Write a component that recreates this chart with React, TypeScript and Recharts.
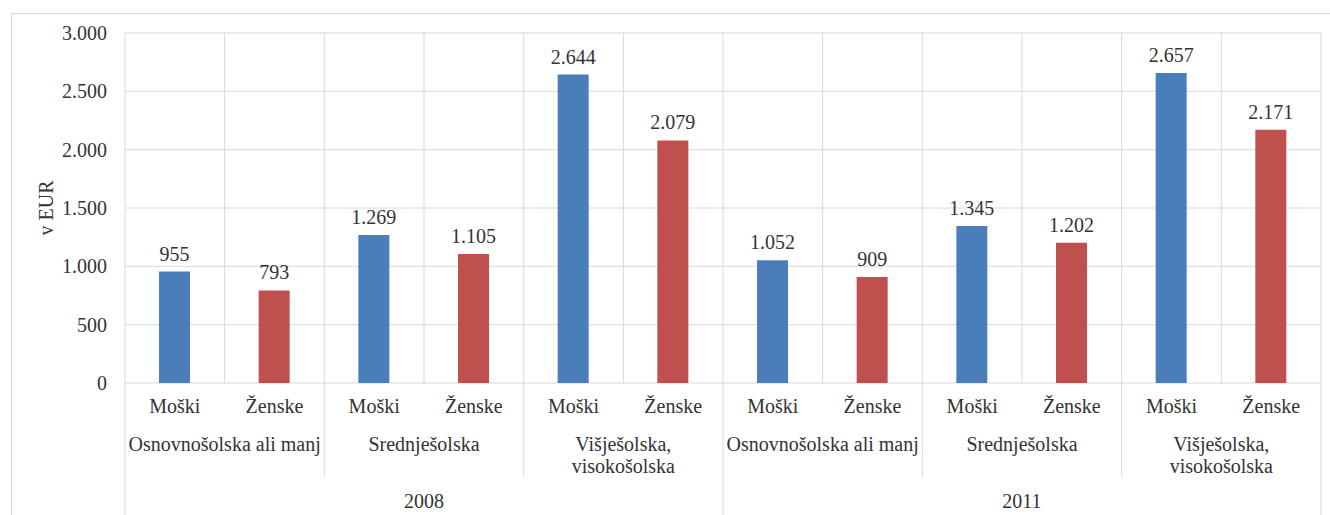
import { Bar, BarChart, CartesianGrid, Cell, LabelList, XAxis, YAxis } from 'recharts';

// categories (bottom to top of the axis hierarchy)
const genders = ['Moški', 'Ženske', 'Moški', 'Ženske', 'Moški', 'Ženske', 'Moški', 'Ženske', 'Moški', 'Ženske', 'Moški', 'Ženske'];
const education = [
  ['Osnovnošolska ali manj'],
  ['Srednješolska'],
  ['Višješolska,', 'visokošolska'],
  ['Osnovnošolska ali manj'],
  ['Srednješolska'],
  ['Višješolska,', 'visokošolska'],
];
const years = ['2008', '2011'];
const values = [955, 793, 1269, 1105, 2644, 2079, 1052, 909, 1345, 1202, 2657, 2171];
const yTicks = [0, 500, 1000, 1500, 2000, 2500, 3000];

const data = values.map((value, i) => ({ gender: genders[i], value }));

const W = 1330;
const H = 515;
const M = { top: 33, right: 9, left: 0, bottom: 0 };
const Y_W = 125;
const X_H = 132;
const PLOT_W = W - M.left - M.right - Y_W;
const BAND = PLOT_W / data.length;

const TEXT = '#333333';
const GRID = '#d9d9d9';
const FONT = 'Liberation Serif, DejaVu Serif, serif';
const TS = { fontFamily: FONT, fontSize: 20 };

const fmt = (v: number) => String(v).replace(/\B(?=(\d{3})+(?!\d))/g, '.');

function MultiTick(props: any) {
  const { x, y, payload } = props;
  const i = payload.index;
  const left = x - BAND / 2;
  const right = x + BAND / 2;
  const out: any[] = [];
  out.push(
    <text key="g" x={x} y={y + 30} textAnchor="middle" fill={TEXT} style={TS}>
      {payload.value}
    </text>
  );
  if (i % 2 === 0) {
    const lines = education[i / 2];
    out.push(
      <text key="e" x={right} y={y + 68} textAnchor="middle" fill={TEXT} style={TS}>
        {lines.map((l, k) => (
          <tspan key={k} x={right} dy={k === 0 ? 0 : 22}>{l}</tspan>
        ))}
      </text>
    );
    const toBottom = i % 6 === 0;
    out.push(<line key="s" x1={left} x2={left} y1={y} y2={toBottom ? y + X_H : y + 94} stroke={GRID} />);
  }
  if (i % 6 === 0) {
    out.push(
      <text key="y" x={x + BAND * 2.5} y={y + 125} textAnchor="middle" fill={TEXT} style={TS}>
        {years[i / 6]}
      </text>
    );
  }
  if (i === data.length - 1) {
    out.push(<line key="r" x1={right} x2={right} y1={y} y2={y + X_H} stroke={GRID} />);
  }
  return <g>{out}</g>;
}

export default function App() {
  return (
    <div style={{ position: 'absolute', left: 0, top: 0, width: W, height: H, overflow: 'hidden', background: '#fff', fontFamily: FONT }}>
      <div style={{ position: 'absolute', left: 11, top: 13, width: W, height: H, border: `1px solid ${GRID}` }} />
      <div style={{ position: 'absolute', left: 0, top: 0 }}>
        <BarChart width={W} height={H} data={data} margin={M} style={{ fontFamily: FONT }}>
          <CartesianGrid
            stroke={GRID}
            verticalCoordinatesGenerator={({ offset }: any) =>
              data.map((_, i) => offset.left + i * (offset.width / data.length)).concat(offset.left + offset.width)
            }
          />
          <XAxis
            dataKey="gender"
            height={X_H}
            tickSize={0}
            tickMargin={0}
            axisLine={false}
            tickLine={false}
            interval={0}
            tick={<MultiTick />}
          />
          <YAxis
            width={Y_W}
            domain={[0, 3000]}
            ticks={yTicks}
            tickFormatter={fmt}
            axisLine={false}
            tickLine={false}
            tickMargin={12}
            tick={{ fill: TEXT, fontSize: 20, fontFamily: FONT, style: TS }}
            label={(p: any) => {
              const vb = p.viewBox || { x: 0, y: 33, width: Y_W, height: 350 };
              const cx = 46;
              const cy = vb.y + vb.height / 2;
              return (
                <text
                  x={cx}
                  y={cy}
                  transform={`rotate(-90 ${cx} ${cy})`}
                  textAnchor="middle"
                  dominantBaseline="central"
                  fill={TEXT}
                  style={TS}
                >
                  v EUR
                </text>
              );
            }}
          />
          <Bar dataKey="value" barSize={31} isAnimationActive={false}>
            {data.map((d, i) => (
              <Cell key={i} fill={d.gender === 'Moški' ? '#4a7ebb' : '#c0504d'} />
            ))}
            <LabelList
              dataKey="value"
              position="top"
              offset={11}
              formatter={(v: any) => fmt(Number(v))}
              fill={TEXT}
              fontSize={20}
              fontFamily={FONT}
              style={TS}
            />
          </Bar>
        </BarChart>
      </div>
    </div>
  );
}
